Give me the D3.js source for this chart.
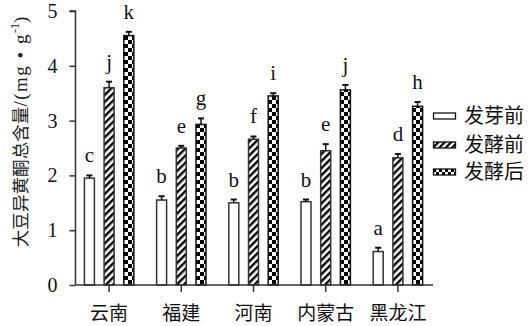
<!DOCTYPE html>
<html>
<head>
<meta charset="utf-8">
<script src="https://cdn.jsdelivr.net/npm/d3@7"></script>
<style>
  html, body { margin: 0; padding: 0; background: #fff; }
  svg { display: block; }
</style>
</head>
<body>
<svg id="chart" width="530" height="326"></svg>
<script>
// Regions (x axis)
const regions = ["云南", "福建", "河南", "内蒙古", "黑龙江"];
// Treatments (legend)
const treatments = ["发芽前", "发酵前", "发酵后"];
// Mean total isoflavone content, mg·g⁻¹, one array per treatment
const beforeGermination = [1.95, 1.55, 1.50, 1.52, 0.61];
const beforeFermentation = [3.60, 2.50, 2.66, 2.45, 2.32];
const afterFermentation = [4.55, 2.93, 3.45, 3.56, 3.26];
// Standard deviations
const sdBeforeGermination = [0.05, 0.07, 0.06, 0.04, 0.07];
const sdBeforeFermentation = [0.11, 0.04, 0.05, 0.12, 0.07];
const sdAfterFermentation = [0.07, 0.11, 0.05, 0.09, 0.08];
// Significance letters
const lettersBeforeGermination = ["c", "b", "b", "b", "a"];
const lettersBeforeFermentation = ["j", "e", "f", "e", "d"];
const lettersAfterFermentation = ["k", "g", "i", "j", "h"];
// Y axis ticks
const yTicks = [0, 1, 2, 3, 4, 5];

const seriesValues = [beforeGermination, beforeFermentation, afterFermentation];
const seriesSd = [sdBeforeGermination, sdBeforeFermentation, sdAfterFermentation];
const seriesLetters = [lettersBeforeGermination, lettersBeforeFermentation, lettersAfterFermentation];
const fills = ["#fff", "url(#hatch)", "url(#checker)"];
const legendFills = ["#fff", "url(#hatchSmall)", "url(#checkerSmall)"];

const SERIF = "'Liberation Serif', 'Times New Roman', Times, 'DejaVu Serif', serif";
const CJK = "'Noto Sans CJK SC', sans-serif";

const svg = d3.select("#chart");
const ink = "#333";

// Fill patterns
const defs = svg.append("defs");
const hatch = defs.append("pattern").attr("id", "hatch")
  .attr("patternUnits", "userSpaceOnUse").attr("width", 5).attr("height", 5)
  .attr("patternTransform", "rotate(45)");
hatch.append("rect").attr("width", 5).attr("height", 5).attr("fill", "#fff");
hatch.append("rect").attr("width", 2.4).attr("height", 5).attr("fill", "#000");

const checker = defs.append("pattern").attr("id", "checker")
  .attr("patternUnits", "userSpaceOnUse").attr("width", 8).attr("height", 8);
checker.append("rect").attr("width", 8).attr("height", 8).attr("fill", "#fff");
checker.append("rect").attr("width", 4).attr("height", 4).attr("fill", "#000");
checker.append("rect").attr("x", 4).attr("y", 4).attr("width", 4).attr("height", 4).attr("fill", "#000");

const hatchSmall = defs.append("pattern").attr("id", "hatchSmall")
  .attr("patternUnits", "userSpaceOnUse").attr("width", 4.5).attr("height", 4.5)
  .attr("patternTransform", "rotate(45)");
hatchSmall.append("rect").attr("width", 4.5).attr("height", 4.5).attr("fill", "#fff");
hatchSmall.append("rect").attr("width", 2.2).attr("height", 4.5).attr("fill", "#000");

const checkerSmall = defs.append("pattern").attr("id", "checkerSmall")
  .attr("patternUnits", "userSpaceOnUse").attr("width", 6).attr("height", 6)
  .attr("x", 1).attr("y", 1);
checkerSmall.append("rect").attr("width", 6).attr("height", 6).attr("fill", "#fff");
checkerSmall.append("rect").attr("width", 3).attr("height", 3).attr("fill", "#000");
checkerSmall.append("rect").attr("x", 3).attr("y", 3).attr("width", 3).attr("height", 3).attr("fill", "#000");

// Scales
const x = d3.scaleBand().domain(regions).range([73, 434]);
const xs = d3.scalePoint().domain(treatments).range([-19.7, 19.7]);
const y = d3.scaleLinear().domain([0, 5]).range([285, 11]);
const barW = 10;
const axisLeft = 75.5, axisRight = 433;

// Bars, error bars and letters
treatments.forEach((t, si) => {
  const g = svg.append("g");
  const rows = regions.map((r, i) => ({
    r, v: seriesValues[si][i], sd: seriesSd[si][i], letter: seriesLetters[si][i]
  }));
  const cx = d => x(d.r) + x.bandwidth() / 2 + xs(t);

  g.selectAll("rect").data(rows).join("rect")
    .attr("x", d => cx(d) - barW / 2)
    .attr("y", d => y(d.v))
    .attr("width", barW)
    .attr("height", d => y(0) - y(d.v))
    .attr("fill", fills[si])
    .attr("stroke", si === 2 ? "#111" : ink)
    .attr("stroke-width", 1.5);

  g.selectAll("line.err").data(rows).join("line").attr("class", "err")
    .attr("x1", cx).attr("x2", cx)
    .attr("y1", d => y(d.v)).attr("y2", d => y(d.v + d.sd))
    .attr("stroke", "#111").attr("stroke-width", 1.5);
  g.selectAll("line.cap").data(rows).join("line").attr("class", "cap")
    .attr("x1", d => cx(d) - 3).attr("x2", d => cx(d) + 3)
    .attr("y1", d => y(d.v + d.sd)).attr("y2", d => y(d.v + d.sd))
    .attr("stroke", "#111").attr("stroke-width", 2);

  g.selectAll("text").data(rows).join("text")
    .attr("font-family", SERIF)
    .attr("x", cx)
    .attr("y", d => y(d.v + d.sd) - 13)
    .attr("text-anchor", "middle")
    .attr("font-size", 21)
    .attr("fill", "#111")
    .text(d => d.letter);
});

// Y axis
const yAxis = svg.append("g").attr("transform", `translate(${axisLeft},0)`)
  .call(d3.axisLeft(y).tickValues(yTicks).tickSize(6).tickPadding(12).tickFormat(d3.format("d")));
yAxis.attr("font-family", SERIF).attr("font-size", 20);
yAxis.select(".domain").attr("stroke", ink).attr("stroke-width", 1.5)
  .attr("d", `M-6,${y(5)}H0V${y(0)}`);
yAxis.selectAll(".tick line").attr("stroke", ink).attr("stroke-width", 1.5);
yAxis.selectAll(".tick text").attr("fill", "#111");

// X axis
const xAxis = svg.append("g").attr("transform", `translate(0,${y(0)})`)
  .call(d3.axisBottom(x).tickSize(7).tickPadding(12));
xAxis.attr("font-family", CJK).attr("font-size", 19);
xAxis.select(".domain").attr("stroke", ink).attr("stroke-width", 1.5)
  .attr("d", `M${axisLeft},0H${axisRight}`);
xAxis.selectAll(".tick line").attr("stroke", ink).attr("stroke-width", 1.5);
xAxis.selectAll(".tick text").attr("fill", "#111").attr("dy", "0.85em");

// Y axis title
const title = svg.append("text")
  .attr("transform", "translate(27,132) rotate(-90)")
  .attr("text-anchor", "middle")
  .attr("font-size", 17.6)
  .attr("fill", "#222");
title.append("tspan").attr("font-family", CJK).text("大豆异黄酮总含量");
title.append("tspan").attr("font-family", SERIF).attr("font-size", 19)
  .attr("letter-spacing", 1.5).text("/(mg • g");
title.append("tspan").attr("font-family", SERIF).attr("font-size", 12).attr("dy", -8).text("-1");
title.append("tspan").attr("font-family", SERIF).attr("font-size", 19).attr("dy", 8).text(")");

// Legend
const legend = svg.append("g");
const legendY = [116, 145, 172];
treatments.forEach((t, i) => {
  legend.append("rect")
    .attr("x", 433.5).attr("y", legendY[i] - 3)
    .attr("width", 22).attr("height", 6)
    .attr("fill", legendFills[i]).attr("stroke", "#111").attr("stroke-width", 1.3);
  legend.append("text")
    .attr("font-family", CJK)
    .attr("x", 464).attr("y", legendY[i])
    .attr("dy", "0.36em")
    .attr("font-size", 20)
    .attr("fill", "#111")
    .text(t);
});
</script>
</body>
</html>
